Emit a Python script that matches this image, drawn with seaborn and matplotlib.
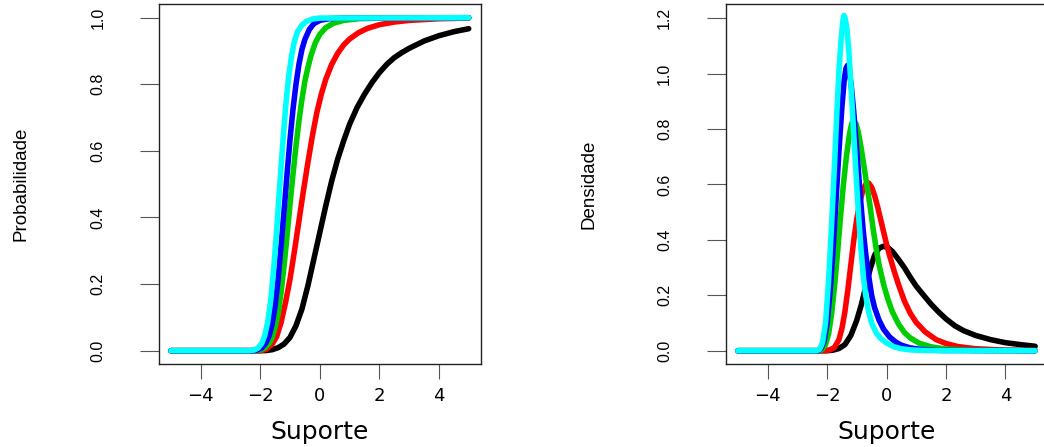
import matplotlib
matplotlib.use("Agg")
import matplotlib.pyplot as plt
import seaborn as sns
import pandas as pd

# ---------------- data ----------------
cdf_black_x = [-5, -2.0, -1.8, -1.6, -1.4, -1.2, -1.0, -0.8, -0.6, -0.4, -0.2, 0.0, 0.2, 0.4, 0.6, 0.8, 1.0, 1.25, 1.5, 1.75, 2.0, 2.25, 2.5, 2.75, 3.0, 3.5, 4.0, 4.5, 5.0]
cdf_black_y = [0, 0, 0.0005, 0.003, 0.009, 0.02, 0.04, 0.075, 0.125, 0.195, 0.275, 0.355, 0.435, 0.51, 0.575, 0.63, 0.68, 0.73, 0.77, 0.805, 0.835, 0.86, 0.88, 0.895, 0.908, 0.93, 0.946, 0.958, 0.967]

cdf_red_x = [-5, -2.0, -1.8, -1.6, -1.45, -1.3, -1.15, -1.0, -0.85, -0.7, -0.55, -0.4, -0.25, -0.1, 0.05, 0.2, 0.4, 0.6, 0.8, 1.0, 1.3, 1.6, 2.0, 2.5, 3.0, 4.0, 5.0]
cdf_red_y = [0, 0, 0.004, 0.02, 0.042, 0.085, 0.145, 0.215, 0.30, 0.39, 0.48, 0.565, 0.645, 0.715, 0.77, 0.815, 0.86, 0.893, 0.918, 0.936, 0.955, 0.968, 0.979, 0.987, 0.992, 0.997, 0.999]

cdf_green_x = [-5, -2.15, -2.0, -1.85, -1.7, -1.6, -1.5, -1.4, -1.3, -1.2, -1.1, -1.0, -0.9, -0.8, -0.7, -0.6, -0.5, -0.4, -0.3, -0.15, 0.0, 0.2, 0.45, 0.8, 1.3, 2.0, 5.0]
cdf_green_y = [0, 0, 0.002, 0.008, 0.022, 0.04, 0.07, 0.11, 0.175, 0.255, 0.345, 0.44, 0.53, 0.615, 0.69, 0.755, 0.81, 0.85, 0.885, 0.925, 0.95, 0.97, 0.983, 0.992, 0.997, 0.999, 1.0]

cdf_blue_x = [-5, -2.25, -2.1, -1.95, -1.8, -1.7, -1.6, -1.5, -1.4, -1.3, -1.2, -1.1, -1.0, -0.9, -0.8, -0.7, -0.6, -0.5, -0.35, -0.2, 0.0, 0.3, 0.7, 5.0]
cdf_blue_y = [0, 0, 0.002, 0.008, 0.025, 0.045, 0.08, 0.135, 0.215, 0.315, 0.42, 0.53, 0.635, 0.725, 0.80, 0.86, 0.905, 0.935, 0.965, 0.982, 0.992, 0.997, 0.999, 1.0]

cdf_cyan_x = [-5, -2.35, -2.2, -2.07, -1.95, -1.85, -1.75, -1.65, -1.55, -1.45, -1.35, -1.25, -1.15, -1.05, -0.95, -0.85, -0.75, -0.6, -0.45, -0.25, 0.0, 5.0]
cdf_cyan_y = [0, 0, 0.002, 0.008, 0.022, 0.045, 0.085, 0.15, 0.245, 0.36, 0.49, 0.615, 0.73, 0.82, 0.885, 0.93, 0.958, 0.978, 0.989, 0.996, 0.999, 1.0]

pdf_black_x = [-5, -2.0, -1.8, -1.6, -1.4, -1.2, -1.0, -0.85, -0.7, -0.55, -0.4, -0.25, -0.1, 0.05, 0.2, 0.4, 0.6, 0.8, 1.0, 1.25, 1.5, 1.75, 2.0, 2.3, 2.6, 3.0, 3.5, 4.0, 4.5, 5.0]
pdf_black_y = [0, 0, 0.002, 0.008, 0.022, 0.055, 0.11, 0.165, 0.23, 0.295, 0.345, 0.37, 0.377, 0.372, 0.358, 0.33, 0.30, 0.265, 0.233, 0.20, 0.168, 0.14, 0.115, 0.09, 0.072, 0.055, 0.04, 0.029, 0.022, 0.016]

pdf_red_x = [-5, -2.1, -1.9, -1.75, -1.6, -1.5, -1.4, -1.3, -1.2, -1.1, -1.0, -0.9, -0.8, -0.7, -0.6, -0.5, -0.4, -0.3, -0.2, -0.1, 0.0, 0.1, 0.25, 0.4, 0.6, 0.8, 1.0, 1.3, 1.67, 2.0, 2.4, 3.0, 4.0, 5.0]
pdf_red_y = [0, 0, 0.003, 0.012, 0.04, 0.08, 0.14, 0.22, 0.31, 0.40, 0.475, 0.535, 0.578, 0.60, 0.605, 0.59, 0.56, 0.52, 0.475, 0.43, 0.385, 0.345, 0.29, 0.24, 0.18, 0.135, 0.102, 0.068, 0.04, 0.026, 0.015, 0.007, 0.002, 0.001]

pdf_green_x = [-5, -2.25, -2.15, -2.05, -1.95, -1.85, -1.75, -1.65, -1.55, -1.45, -1.35, -1.25, -1.17, -1.1, -1.03, -0.95, -0.85, -0.75, -0.65, -0.55, -0.45, -0.35, -0.25, -0.1, 0.05, 0.2, 0.4, 0.6, 0.8, 1.1, 1.5, 2.0, 3.0, 5.0]
pdf_green_y = [0, 0, 0.006, 0.022, 0.06, 0.13, 0.23, 0.35, 0.48, 0.60, 0.70, 0.78, 0.82, 0.83, 0.82, 0.79, 0.73, 0.66, 0.59, 0.52, 0.44, 0.37, 0.31, 0.24, 0.185, 0.14, 0.097, 0.066, 0.046, 0.027, 0.014, 0.006, 0.001, 0]

pdf_blue_x = [-5, -2.3, -2.2, -2.1, -2.0, -1.9, -1.8, -1.7, -1.6, -1.5, -1.42, -1.36, -1.31, -1.25, -1.18, -1.1, -1.02, -0.94, -0.86, -0.78, -0.7, -0.6, -0.5, -0.4, -0.25, -0.1, 0.1, 0.3, 0.5, 0.8, 1.2, 1.8, 5.0]
pdf_blue_y = [0, 0, 0.008, 0.035, 0.10, 0.21, 0.36, 0.54, 0.72, 0.88, 0.98, 1.02, 1.03, 1.01, 0.95, 0.86, 0.75, 0.64, 0.53, 0.43, 0.35, 0.27, 0.20, 0.155, 0.11, 0.078, 0.05, 0.032, 0.02, 0.01, 0.004, 0.001, 0]

pdf_cyan_x = [-5, -2.35, -2.25, -2.15, -2.05, -1.95, -1.85, -1.75, -1.67, -1.6, -1.53, -1.47, -1.43, -1.39, -1.33, -1.26, -1.18, -1.1, -1.02, -0.94, -0.86, -0.78, -0.7, -0.6, -0.5, -0.35, -0.2, 0.0, 0.25, 0.5, 0.8, 1.2, 2.0, 5.0]
pdf_cyan_y = [0, 0, 0.005, 0.03, 0.10, 0.25, 0.45, 0.67, 0.86, 1.01, 1.12, 1.19, 1.21, 1.20, 1.16, 1.07, 0.93, 0.78, 0.63, 0.49, 0.37, 0.27, 0.20, 0.14, 0.10, 0.065, 0.045, 0.028, 0.014, 0.007, 0.003, 0.001, 0, 0]

series_names = ["black", "red", "green", "blue", "cyan"]
series_colors = ["#000000", "#FF0000", "#00CD00", "#0000FF", "#00FFFF"]

x_ticks = [-4, -2, 0, 2, 4]
cdf_ticks = [0.0, 0.2, 0.4, 0.6, 0.8, 1.0]
pdf_ticks = [0.0, 0.2, 0.4, 0.6, 0.8, 1.0, 1.2]
x_label = "Suporte"
cdf_label = "Probabilidade"
pdf_label = "Densidade"

# ---------------- tables ----------------
cdf_sets = [(cdf_black_x, cdf_black_y), (cdf_red_x, cdf_red_y), (cdf_green_x, cdf_green_y),
            (cdf_blue_x, cdf_blue_y), (cdf_cyan_x, cdf_cyan_y)]
pdf_sets = [(pdf_black_x, pdf_black_y), (pdf_red_x, pdf_red_y), (pdf_green_x, pdf_green_y),
            (pdf_blue_x, pdf_blue_y), (pdf_cyan_x, pdf_cyan_y)]


def build(sets):
    frames = []
    for name, (xs, ys) in zip(series_names, sets):
        frames.append(pd.DataFrame({"x": xs, "y": ys, "s": name}))
    return pd.concat(frames, ignore_index=True)


df_cdf = build(cdf_sets)
df_pdf = build(pdf_sets)
palette = dict(zip(series_names, series_colors))

sns.set_style("white")
plt.rcParams.update({"text.color": "black", "axes.labelcolor": "black",
                     "xtick.labelcolor": "black", "ytick.labelcolor": "black"})
narrow = ["Liberation Sans Narrow", "Liberation Sans", "DejaVu Sans"]
wide = ["DejaVu Sans"]

fig = plt.figure(figsize=(10.44, 4.47), dpi=100)
W, H = 1044.0, 447.0
ax1 = fig.add_axes([159 / W, 1 - 364 / H, 321.6 / W, 359.6 / H])
ax2 = fig.add_axes([726 / W, 1 - 364 / H, 321.0 / W, 359.6 / H])

for ax, df, yl, yt, ylim in [
    (ax1, df_cdf, cdf_label, cdf_ticks, (-0.04, 1.04)),
    (ax2, df_pdf, pdf_label, pdf_ticks, (-0.048, 1.25)),
]:
    sns.lineplot(data=df, x="x", y="y", hue="s", hue_order=series_names, palette=palette,
                 estimator=None, sort=True, legend=False, linewidth=4.0, ax=ax,
                 solid_capstyle="round", solid_joinstyle="round")
    ax.set_xlim(-5.4, 5.4)
    ax.set_ylim(*ylim)
    ax.set_xticks(x_ticks)
    ax.set_xticklabels([("\u2212%d" % -v) if v < 0 else str(v) for v in x_ticks],
                       family=wide, fontsize=13)
    ax.set_yticks(yt)
    ax.set_yticklabels(["%.1f" % v for v in yt], family=narrow, fontsize=11.5,
                       rotation=90, va="center")
    ax.tick_params(axis="x", direction="out", length=10.8, width=0.8, color="#555555", pad=6, bottom=True)
    ax.tick_params(axis="y", direction="out", length=13.7, width=0.8, color="#555555", pad=25, left=True)
    for sp in ax.spines.values():
        sp.set_visible(True)
        sp.set_color("#222222")
        sp.set_linewidth(1.0)
    ax.set_xlabel(x_label, family=wide, fontsize=18)
    ax.set_ylabel(yl, family=narrow, fontsize=13.5)
    ax.xaxis.label.set_va("center")
    ax.yaxis.label.set_va("center")

ax1.xaxis.set_label_coords(0.5, (364 - 432) / 359.6)
ax2.xaxis.set_label_coords(0.5, (364 - 432) / 359.6)
ax1.yaxis.set_label_coords((21 - 159) / 321.6, 0.5)
ax2.yaxis.set_label_coords((589 - 726) / 321.0, 0.5)

fig.savefig("out.png", dpi=100)
